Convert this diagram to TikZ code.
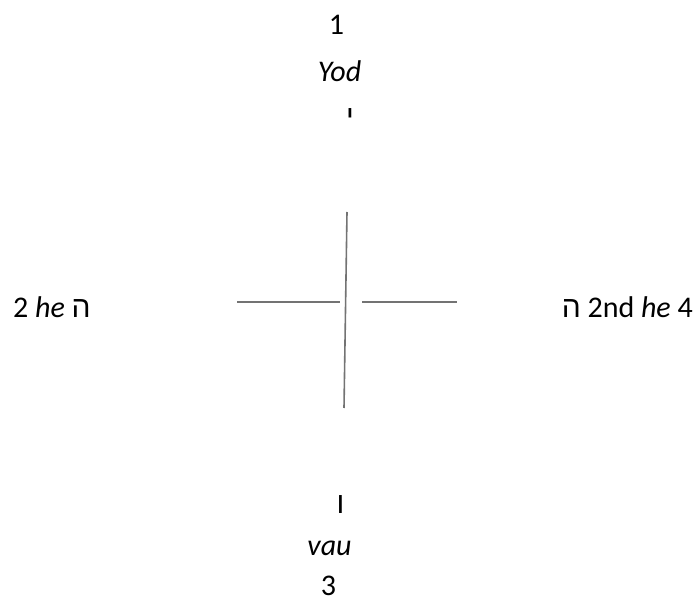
\documentclass[tikz,border=0pt]{standalone}
\usepackage{fontspec}
\setmainfont{Carlito}
\newfontfamily\hebfont[Script=Hebrew]{Liberation Sans}
\TeXXeTstate=1
\usetikzlibrary{positioning}
\newcommand{\heb}[1]{{\hebfont\beginR #1\endR}}

\begin{document}
\begin{tikzpicture}[
    x=1pt, y=-1pt,
    label/.style={inner sep=0pt, font=\fontsize{30}{36}\selectfont},
    bar/.style={draw=black!55, line width=1.6pt}
]
    \useasboundingbox (0,0) rectangle (699,601);

    % Top: Yod
    \node[label, anchor=base] (one) at (336.5,35) {1};
    \node[label, anchor=base] (yodname) at (339.5,82) {\textit{Yod}};
    \node[label, anchor=base] (yodletter) at (350,127) {\heb{י}};

    % Left and right: he
    \node[label, anchor=base west] (he) at (13,318) {2 \textit{he} \heb{ה}};
    \node[label, anchor=base east] (secondhe) at (693,318) {\heb{ה} 2nd \textit{he} 4};

    % Bottom: vau
    \node[label, anchor=base] (vavletter) at (340.5,513) {\heb{ו}};
    \node[label, anchor=base] (vauname) at (329.5,555) {\textit{vau}};
    \node[label, anchor=base] (three) at (328.5,595) {3};

    % Cross
    \coordinate (crosstop) at (347,212);
    \coordinate (crossbottom) at (344,408);
    \coordinate (leftend) at (237,302);
    \coordinate (leftin) at (340,302);
    \coordinate (rightin) at (362,302);
    \coordinate (rightend) at (457,302);
    \draw[bar] (crosstop) -- (crossbottom);
    \draw[bar] (leftend) -- (leftin);
    \draw[bar] (rightin) -- (rightend);
\end{tikzpicture}
\end{document}
